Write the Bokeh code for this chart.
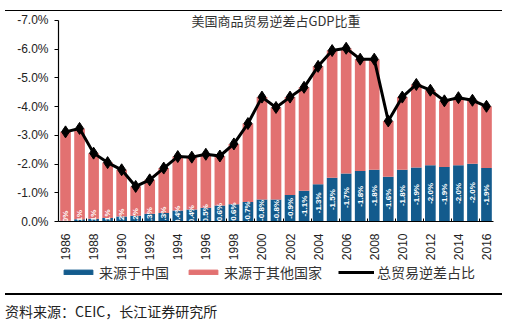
import math
from bokeh.plotting import figure
from bokeh.models import (Range1d, FixedTicker, PrintfTickFormatter, Legend,
                          LegendItem, Label, ColumnDataSource, Div)
from bokeh.layouts import column
from bokeh.core.properties import value
from bokeh.embed import file_html
from bokeh.resources import INLINE

# ---- data ----
years = list(range(1986, 2017))
total = [-3.12, -3.24, -2.38, -2.05, -1.80, -1.22, -1.45, -1.86, -2.26, -2.24,
         -2.34, -2.28, -2.70, -3.41, -4.33, -3.97, -4.33, -4.67, -5.40, -5.95,
         -6.03, -5.65, -5.65, -3.50, -4.33, -4.77, -4.57, -4.20, -4.31, -4.22,
         -4.01]
china = [-0.03, -0.08, -0.10, -0.12, -0.17, -0.20, -0.27, -0.30, -0.38, -0.42,
         -0.48, -0.56, -0.60, -0.68, -0.77, -0.77, -0.92, -1.07, -1.30, -1.52,
         -1.67, -1.76, -1.80, -1.56, -1.80, -1.88, -1.96, -1.90, -1.96, -2.01,
         -1.86]
others = [t - c for t, c in zip(total, china)]
y_ticks = [0, -1, -2, -3, -4, -5, -6, -7]
x_label_years = list(range(1986, 2017, 2))

title_text = "美国商品贸易逆差占GDP比重"
series_names = ["来源于中国", "来源于其他国家", "总贸易逆差占比"]
source_text = "资料来源：CEIC，长江证券研究所"

BLUE = "#135B8D"
RED = "#E27171"
CJK = "Noto Sans CJK SC"
LAT = "Liberation Sans"


def clean(fig):
    fig.outline_line_color = None
    fig.xgrid.visible = False
    fig.ygrid.visible = False
    fig.background_fill_color = "white"
    fig.border_fill_color = "white"


src = ColumnDataSource(dict(
    x=years, china=china, others=others, total=total,
    ly=[c / 2 for c in china],
    lt=[f"{c:.1f}%" for c in china],
))

# ---- main chart ----
p = figure(width=514, height=252, output_backend="svg", toolbar_location=None,
           x_range=Range1d(1985.5, 2016.5), y_range=Range1d(0, -7.31),
           min_border_left=58, min_border_right=21, min_border_top=0,
           min_border_bottom=41)
clean(p)

bars = p.vbar_stack(["china", "others"], x="x", width=0.76, source=src,
                    color=[BLUE, RED], line_color=None)

p.text(x="x", y="ly", text="lt", source=src, angle=math.pi / 2,
       text_align="center", text_baseline="middle", text_color="white",
       text_font=value(LAT), text_font_style="bold", text_font_size="8px")

ln = p.line(x="x", y="total", source=src, line_color="black", line_width=3)
mk = p.scatter(x="x", y="total", source=src, marker="diamond", size=12,
               fill_color="black", line_color="black")

xa = p.xaxis[0]
xa.ticker = FixedTicker(ticks=x_label_years,
                        minor_ticks=[y + 1.5 for y in x_label_years[:-1]])
xa.major_label_orientation = math.pi / 2
xa.major_label_text_font = LAT
xa.major_label_text_font_size = "12px"
xa.major_label_text_color = "#222222"
xa.major_tick_line_color = None
xa.minor_tick_in = 3
xa.minor_tick_out = 0
xa.minor_tick_line_color = "black"
xa.axis_line_color = "black"
xa.axis_line_width = 1.2
xa.major_label_standoff = 6

ya = p.yaxis[0]
ya.ticker = FixedTicker(ticks=y_ticks)
ya.bounds = (-7, 0)
ya.formatter = PrintfTickFormatter(format="%.1f%%")
ya.major_label_text_font = LAT
ya.major_label_text_font_size = "12px"
ya.major_label_text_color = "#222222"
ya.major_tick_in = 0
ya.major_tick_out = 4
ya.minor_tick_line_color = None
ya.axis_line_color = "black"
ya.axis_line_width = 1.2
ya.major_label_standoff = 6

p.add_layout(Label(x=2001, y=-7.0, text=title_text, text_align="center",
                   text_baseline="middle", text_font=CJK,
                   text_font_size="13px", text_color="#333333"))

# ---- legend strip (own small figure; key glyphs sit outside its view) ----
lf = figure(width=514, height=29, output_backend="svg", toolbar_location=None,
            x_range=Range1d(0, 1), y_range=Range1d(0, 1),
            x_axis_location=None, y_axis_location=None,
            min_border_left=58, min_border_right=21, min_border_top=0,
            min_border_bottom=0)
clean(lf)
key = ColumnDataSource(dict(x=[-10, -9], y=[-10, -9]))
r_cn = lf.vbar(x="x", top="y", width=0.5, source=key, color=BLUE)
r_ot = lf.vbar(x="x", top="y", width=0.5, source=key, color=RED)
r_ln = lf.line(x="x", y="y", source=key, line_color="black", line_width=3)
r_mk = lf.scatter(x="x", y="y", source=key, marker="diamond", size=10,
                  fill_color="black", line_color="black")
legend = Legend(items=[
    LegendItem(label=series_names[0], renderers=[r_cn]),
    LegendItem(label=series_names[1], renderers=[r_ot]),
    LegendItem(label=series_names[2], renderers=[r_ln, r_mk]),
], orientation="horizontal", location=(2, 10))
legend.glyph_width = 36
legend.glyph_height = 6
legend.label_height = 16
legend.label_text_font = CJK
legend.label_text_font_size = "14px"
legend.label_text_color = "#333333"
legend.label_standoff = 3
legend.spacing = 16
legend.padding = 0
legend.margin = 0
legend.border_line_color = None
legend.background_fill_alpha = 0
lf.add_layout(legend, "center")

top = Div(text='<div style="margin:4px 0 0 5px;width:497px;height:1.5px;'
               'background:#000;"></div>'
               '<div style="font-size:1px;line-height:1px;color:#fff;">&nbsp;</div>',
          width=514, height=11, margin=0)
bottom = Div(text='<div style="margin:1px 0 0 5px;width:497px;height:1.5px;'
                  'background:#000;"></div>'
                  f'<div style="margin:8px 0 0 5px;font-family:\'{CJK}\';'
                  f'font-size:14px;color:#222;line-height:16px;">'
                  f'{source_text}</div>',
             width=514, height=40, margin=0)

layout = column(top, p, lf, bottom, spacing=0)
open("out.html", "w").write(file_html(layout, INLINE))
